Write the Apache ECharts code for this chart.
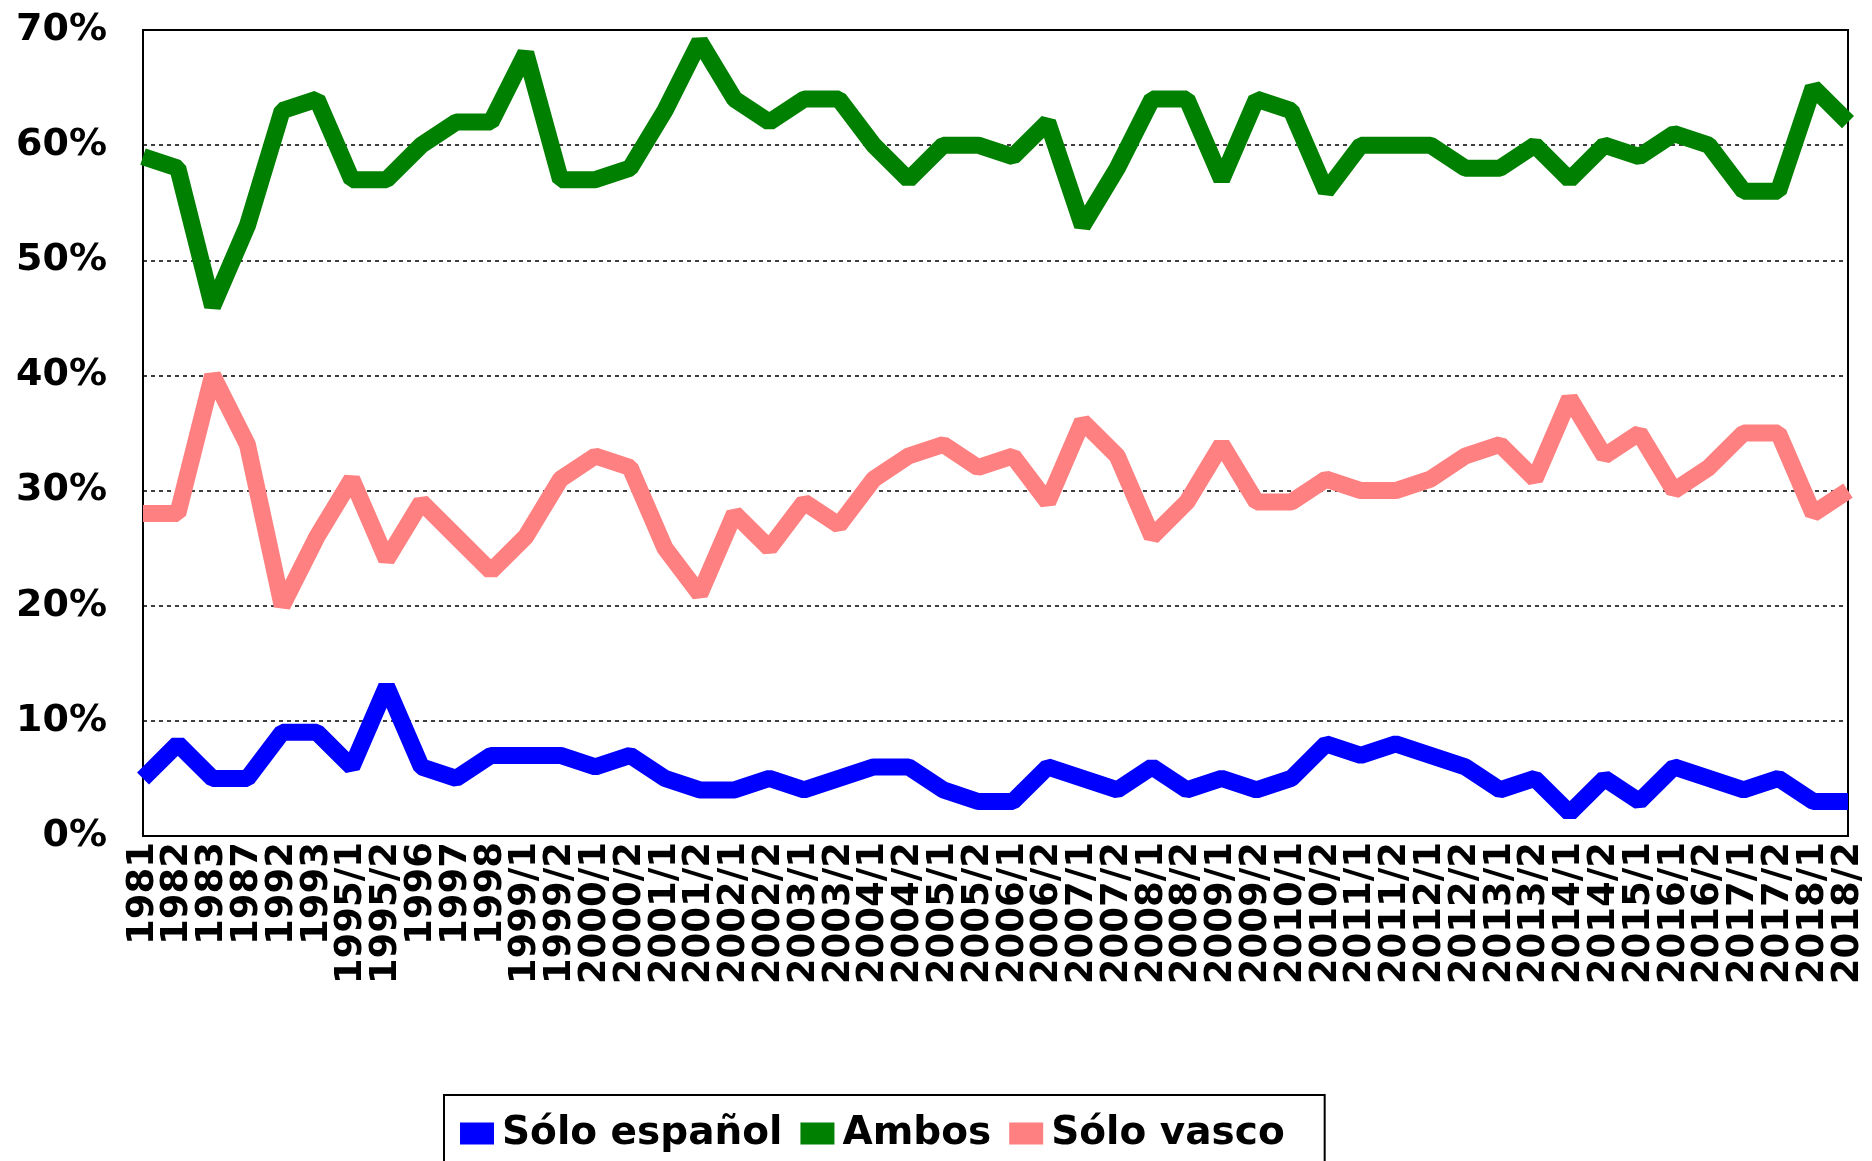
<!DOCTYPE html>
<html>
<head>
<meta charset="utf-8">
<script src="https://cdn.jsdelivr.net/npm/echarts@6/dist/echarts.min.js"></script>
<style>
  html, body { margin: 0; padding: 0; background: #fff; }
  #chart { width: 1872px; height: 1161px; }
</style>
</head>
<body>
<div id="chart"></div>
<script>
var categories = ['1981', '1982', '1983', '1987', '1992', '1993', '1995/1', '1995/2', '1996', '1997',
    '1998', '1999/1', '1999/2', '2000/1', '2000/2', '2001/1', '2001/2', '2002/1', '2002/2', '2003/1',
    '2003/2', '2004/1', '2004/2', '2005/1', '2005/2', '2006/1', '2006/2', '2007/1', '2007/2', '2008/1',
    '2008/2', '2009/1', '2009/2', '2010/1', '2010/2', '2011/1', '2011/2', '2012/1', '2012/2', '2013/1',
    '2013/2', '2014/1', '2014/2', '2015/1', '2016/1', '2016/2', '2017/1', '2017/2', '2018/1', '2018/2'];

var soloEspanol = [5, 8, 5, 5, 9, 9, 6, 13, 6, 5, 7, 7, 7, 6, 7, 5, 4, 4, 5, 4,
    5, 6, 6, 4, 3, 3, 6, 5, 4, 6, 4, 5, 4, 5, 8, 7, 8, 7, 6, 4,
    5, 2, 5, 3, 6, 5, 4, 5, 3, 3];

var ambos = [59, 58, 46, 53, 63, 64, 57, 57, 60, 62, 62, 68, 57, 57, 58, 63, 69, 64, 62, 64,
    64, 60, 57, 60, 60, 59, 62, 53, 58, 64, 64, 57, 64, 63, 56, 60, 60, 60, 58, 58,
    60, 57, 60, 59, 61, 60, 56, 56, 65, 62];

var soloVasco = [28, 28, 40, 34, 20, 26, 31, 24, 29, 26, 23, 26, 31, 33, 32, 25, 21, 28, 25, 29,
    27, 31, 33, 34, 32, 33, 29, 36, 33, 26, 29, 34, 29, 29, 31, 30, 30, 31, 33, 34,
    31, 38, 33, 35, 30, 32, 35, 35, 28, 30];

var seriesNames = ['Sólo español', 'Ambos', 'Sólo vasco'];
var seriesColors = ['#0000ff', '#008000', '#ff8080'];

var myChart = echarts.init(document.getElementById('chart'));

function makeLine(name, data, color) {
    return {
        name: name,
        type: 'line',
        data: data,
        symbol: 'none',
        color: color,
        lineStyle: { width: 17, color: color }
    };
}

myChart.setOption({
    animation: false,
    backgroundColor: '#fff',
    textStyle: { fontFamily: 'DejaVu Sans' },
    grid: {
        left: 143, right: 24, top: 30, bottom: 325,
        show: true, borderColor: '#000', borderWidth: 2
    },
    legend: {
        left: 444, top: 1095,
        padding: [19, 40, 40, 16],
        itemGap: 18,
        itemWidth: 34, itemHeight: 22,
        borderColor: '#000', borderWidth: 2,
        icon: 'rect',
        textStyle: { fontSize: 39, fontWeight: 'bold', color: '#000', fontFamily: 'DejaVu Sans', padding: [0, 0, 0, 3] },
        data: seriesNames
    },
    xAxis: {
        type: 'category',
        data: categories,
        boundaryGap: false,
        axisLine: { show: true, lineStyle: { color: '#000', width: 2 } },
        axisTick: { show: false },
        axisLabel: {
            interval: 0, rotate: 90, margin: 6,
            fontSize: 37, fontWeight: 'bold', color: '#000', fontFamily: 'DejaVu Sans'
        }
    },
    yAxis: {
        type: 'value',
        min: 0, max: 70, interval: 10,
        axisLine: { show: true, lineStyle: { color: '#000', width: 2 } },
        axisTick: { show: false },
        axisLabel: {
            formatter: '{value}%', margin: 36,
            fontSize: 38, fontWeight: 'bold', color: '#000', fontFamily: 'DejaVu Sans'
        },
        splitLine: { lineStyle: { color: '#000', type: [4, 4], width: 1.5 } }
    },
    series: [
        makeLine(seriesNames[0], soloEspanol, seriesColors[0]),
        makeLine(seriesNames[1], ambos, seriesColors[1]),
        makeLine(seriesNames[2], soloVasco, seriesColors[2])
    ]
});
</script>
</body>
</html>
